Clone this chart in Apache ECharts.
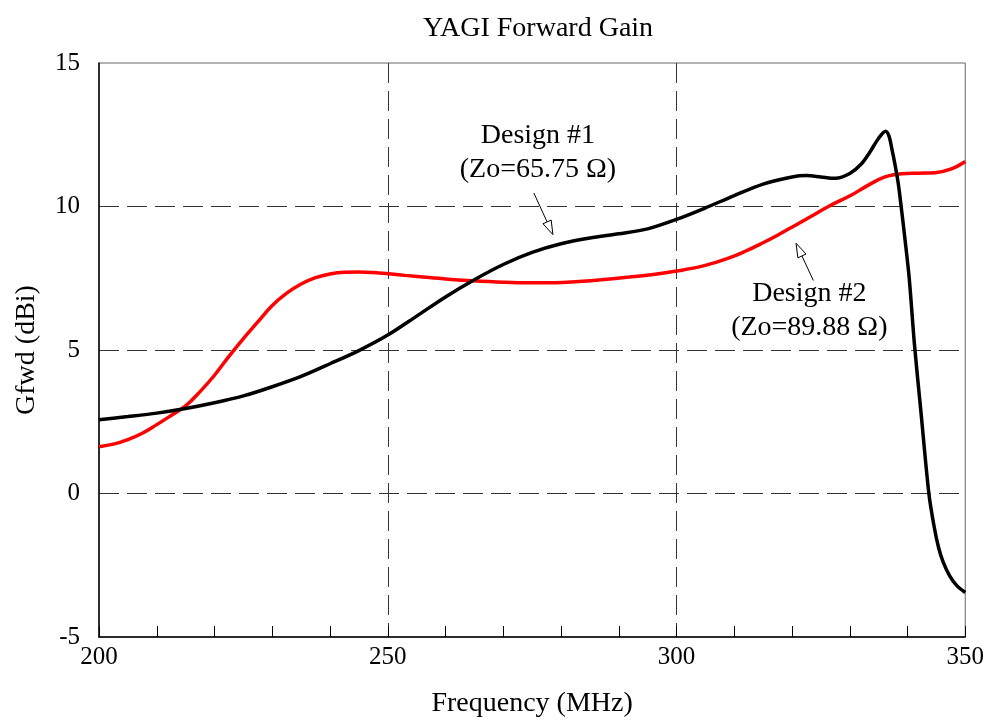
<!DOCTYPE html>
<html>
<head>
<meta charset="utf-8">
<script src="https://cdn.jsdelivr.net/npm/echarts@6/dist/echarts.min.js"></script>
<style>
html,body{margin:0;padding:0;background:#fff;}
#chart{width:987px;height:723px;}
</style>
</head>
<body>
<div id="chart"></div>
<script>
// ---- data ----
const titleText = 'YAGI Forward Gain';
const xAxisName = 'Frequency (MHz)';
const yAxisName = 'Gfwd (dBi)';
const xTicks = [200, 250, 300, 350];
const yTicks = [-5, 0, 5, 10, 15];

const design1Freq = [200,205,210,215,220,225,230,235,240,245,250,255,260,265,270,275,280,285,290,295,300,305,310,315,320,322.5,325,327.5,330,332,333.5,335,336.2,336.8,337.3,337.8,338.4,338.9,339.6,340.3,341.2,342.3,343.7,344.6,345.4,346.2,347.3,348.5,350];
const design1Gain = [2.57,2.68,2.80,2.96,3.16,3.40,3.72,4.08,4.52,4.98,5.52,6.18,6.85,7.45,7.98,8.40,8.70,8.90,9.05,9.22,9.55,9.95,10.38,10.78,11.03,11.08,11.03,10.98,11.15,11.48,11.9,12.38,12.62,12.45,12.0,11.5,10.8,10.0,8.8,7.5,5.2,2.9,0.0,-1.14,-1.9,-2.4,-2.87,-3.2,-3.45];

const design2Freq = [200,202.5,205,207.5,210,212.5,215,217.5,220,222.5,225,227.5,230,232.5,235,237.5,240,242.5,245,247.5,250,253,257.2,261,264.7,270,274.5,279,283.1,287,291.8,296,300,305,309,312,314.8,317.5,320.6,323.5,326.3,330.3,333,336.1,339,342,344.8,347.6,350];
const design2Gain = [1.63,1.72,1.88,2.10,2.40,2.72,3.05,3.55,4.12,4.78,5.40,5.98,6.55,6.98,7.30,7.52,7.65,7.71,7.72,7.70,7.66,7.60,7.53,7.46,7.41,7.36,7.34,7.34,7.39,7.45,7.54,7.63,7.75,7.95,8.2,8.45,8.72,9.0,9.35,9.68,10.0,10.4,10.72,11.03,11.14,11.16,11.18,11.31,11.57];

// annotations: label anchor (freq, gain) and arrow tail -> head (freq, gain)
const labelTexts = ['Design #1\n(Zo=65.75 Ω)', 'Design #2\n(Zo=89.88 Ω)'];
const labelFreq = [276.0, 323.0];
const labelGain = [11.87, 6.37];
const arrowTailFreq = [275.3, 323.7];
const arrowTailGain = [10.47, 7.42];
const arrowHeadFreq = [278.6, 320.7];
const arrowHeadGain = [9.02, 8.72];

// ---- build ----
const FONT = '"Liberation Serif", "Times New Roman", serif';
const zip = (a, b) => a.map((v, i) => [v, b[i]]);

const chart = echarts.init(document.getElementById('chart'), null, {renderer: 'canvas'});

const option = {
  backgroundColor: '#fff',
  animation: false,
  title: {
    text: titleText,
    left: 533,
    textAlign: 'center',
    top: 10,
    textStyle: {fontFamily: FONT, fontSize: 28, fontWeight: 'normal', color: '#000'}
  },
  grid: {
    left: 99, right: 20, top: 63, bottom: 82,
    show: true, borderColor: '#666', borderWidth: 1, backgroundColor: 'transparent'
  },
  xAxis: {
    type: 'value',
    min: xTicks[0], max: xTicks[xTicks.length - 1], interval: 50,
    name: xAxisName, nameLocation: 'middle', nameGap: 53,
    nameTextStyle: {fontFamily: FONT, fontSize: 28, color: '#000'},
    axisLine: {show: true, onZero: false, lineStyle: {color: '#000', width: 1.5}},
    axisTick: {show: true, inside: true, length: 11, lineStyle: {color: '#000', width: 1}},
    minorTick: {show: true, splitNumber: 5, length: 11, lineStyle: {color: '#000', width: 1}},
    axisLabel: {fontFamily: FONT, fontSize: 25, color: '#000', margin: 8},
    splitLine: {show: true, showMinLine: false, showMaxLine: false, lineStyle: {color: '#333', type: [20, 8], width: 1}}
  },
  yAxis: {
    type: 'value',
    min: yTicks[0], max: yTicks[yTicks.length - 1], interval: 5,
    name: yAxisName, nameLocation: 'middle', nameGap: 58,
    nameTextStyle: {fontFamily: FONT, fontSize: 28, color: '#000'},
    axisLine: {show: true, onZero: false, lineStyle: {color: '#000', width: 1.5}},
    axisTick: {show: false},
    axisLabel: {fontFamily: FONT, fontSize: 25, color: '#000', margin: 19},
    splitLine: {show: true, showMinLine: false, showMaxLine: false, lineStyle: {color: '#333', type: [20, 8], width: 1}}
  },
  series: [
    {
      name: 'Design #2', type: 'line', data: zip(design2Freq, design2Gain),
      showSymbol: false, smooth: 0.4, silent: true,
      lineStyle: {color: '#ff0000', width: 3.5}
    },
    {
      name: 'Design #1', type: 'line', data: zip(design1Freq, design1Gain),
      showSymbol: false, smooth: 0.3, silent: true,
      lineStyle: {color: '#000', width: 3.5}
    },
    {
      type: 'custom', silent: true, clip: false,
      data: arrowTailFreq.map((f, i) => [f, arrowTailGain[i], arrowHeadFreq[i], arrowHeadGain[i]]),
      renderItem: function (params, api) {
        const p1 = api.coord([api.value(0), api.value(1)]);
        const p2 = api.coord([api.value(2), api.value(3)]);
        const ang = Math.atan2(p2[1] - p1[1], p2[0] - p1[0]);
        const L = 14, W = 4.5;
        const bx = p2[0] - L * Math.cos(ang), by = p2[1] - L * Math.sin(ang);
        const nx = -Math.sin(ang), ny = Math.cos(ang);
        return {
          type: 'group',
          children: [
            {type: 'line', shape: {x1: p1[0], y1: p1[1], x2: bx, y2: by}, style: {stroke: '#000', lineWidth: 1}},
            {type: 'polygon', shape: {points: [[p2[0], p2[1]], [bx + nx * W, by + ny * W], [bx - nx * W, by - ny * W]]},
              style: {fill: '#fff', stroke: '#000', lineWidth: 1}}
          ]
        };
      }
    },
    {
      type: 'custom', silent: true, clip: false,
      data: labelFreq.map((f, i) => [f, labelGain[i], i]),
      renderItem: function (params, api) {
        const p = api.coord([api.value(0), api.value(1)]);
        return {
          type: 'text',
          x: p[0], y: p[1],
          style: {
            text: labelTexts[api.value(2)],
            fontFamily: FONT, fontSize: 28, fill: '#000',
            align: 'center', verticalAlign: 'middle', lineHeight: 34
          }
        };
      }
    }
  ]
};
chart.setOption(option);
</script>
</body>
</html>
